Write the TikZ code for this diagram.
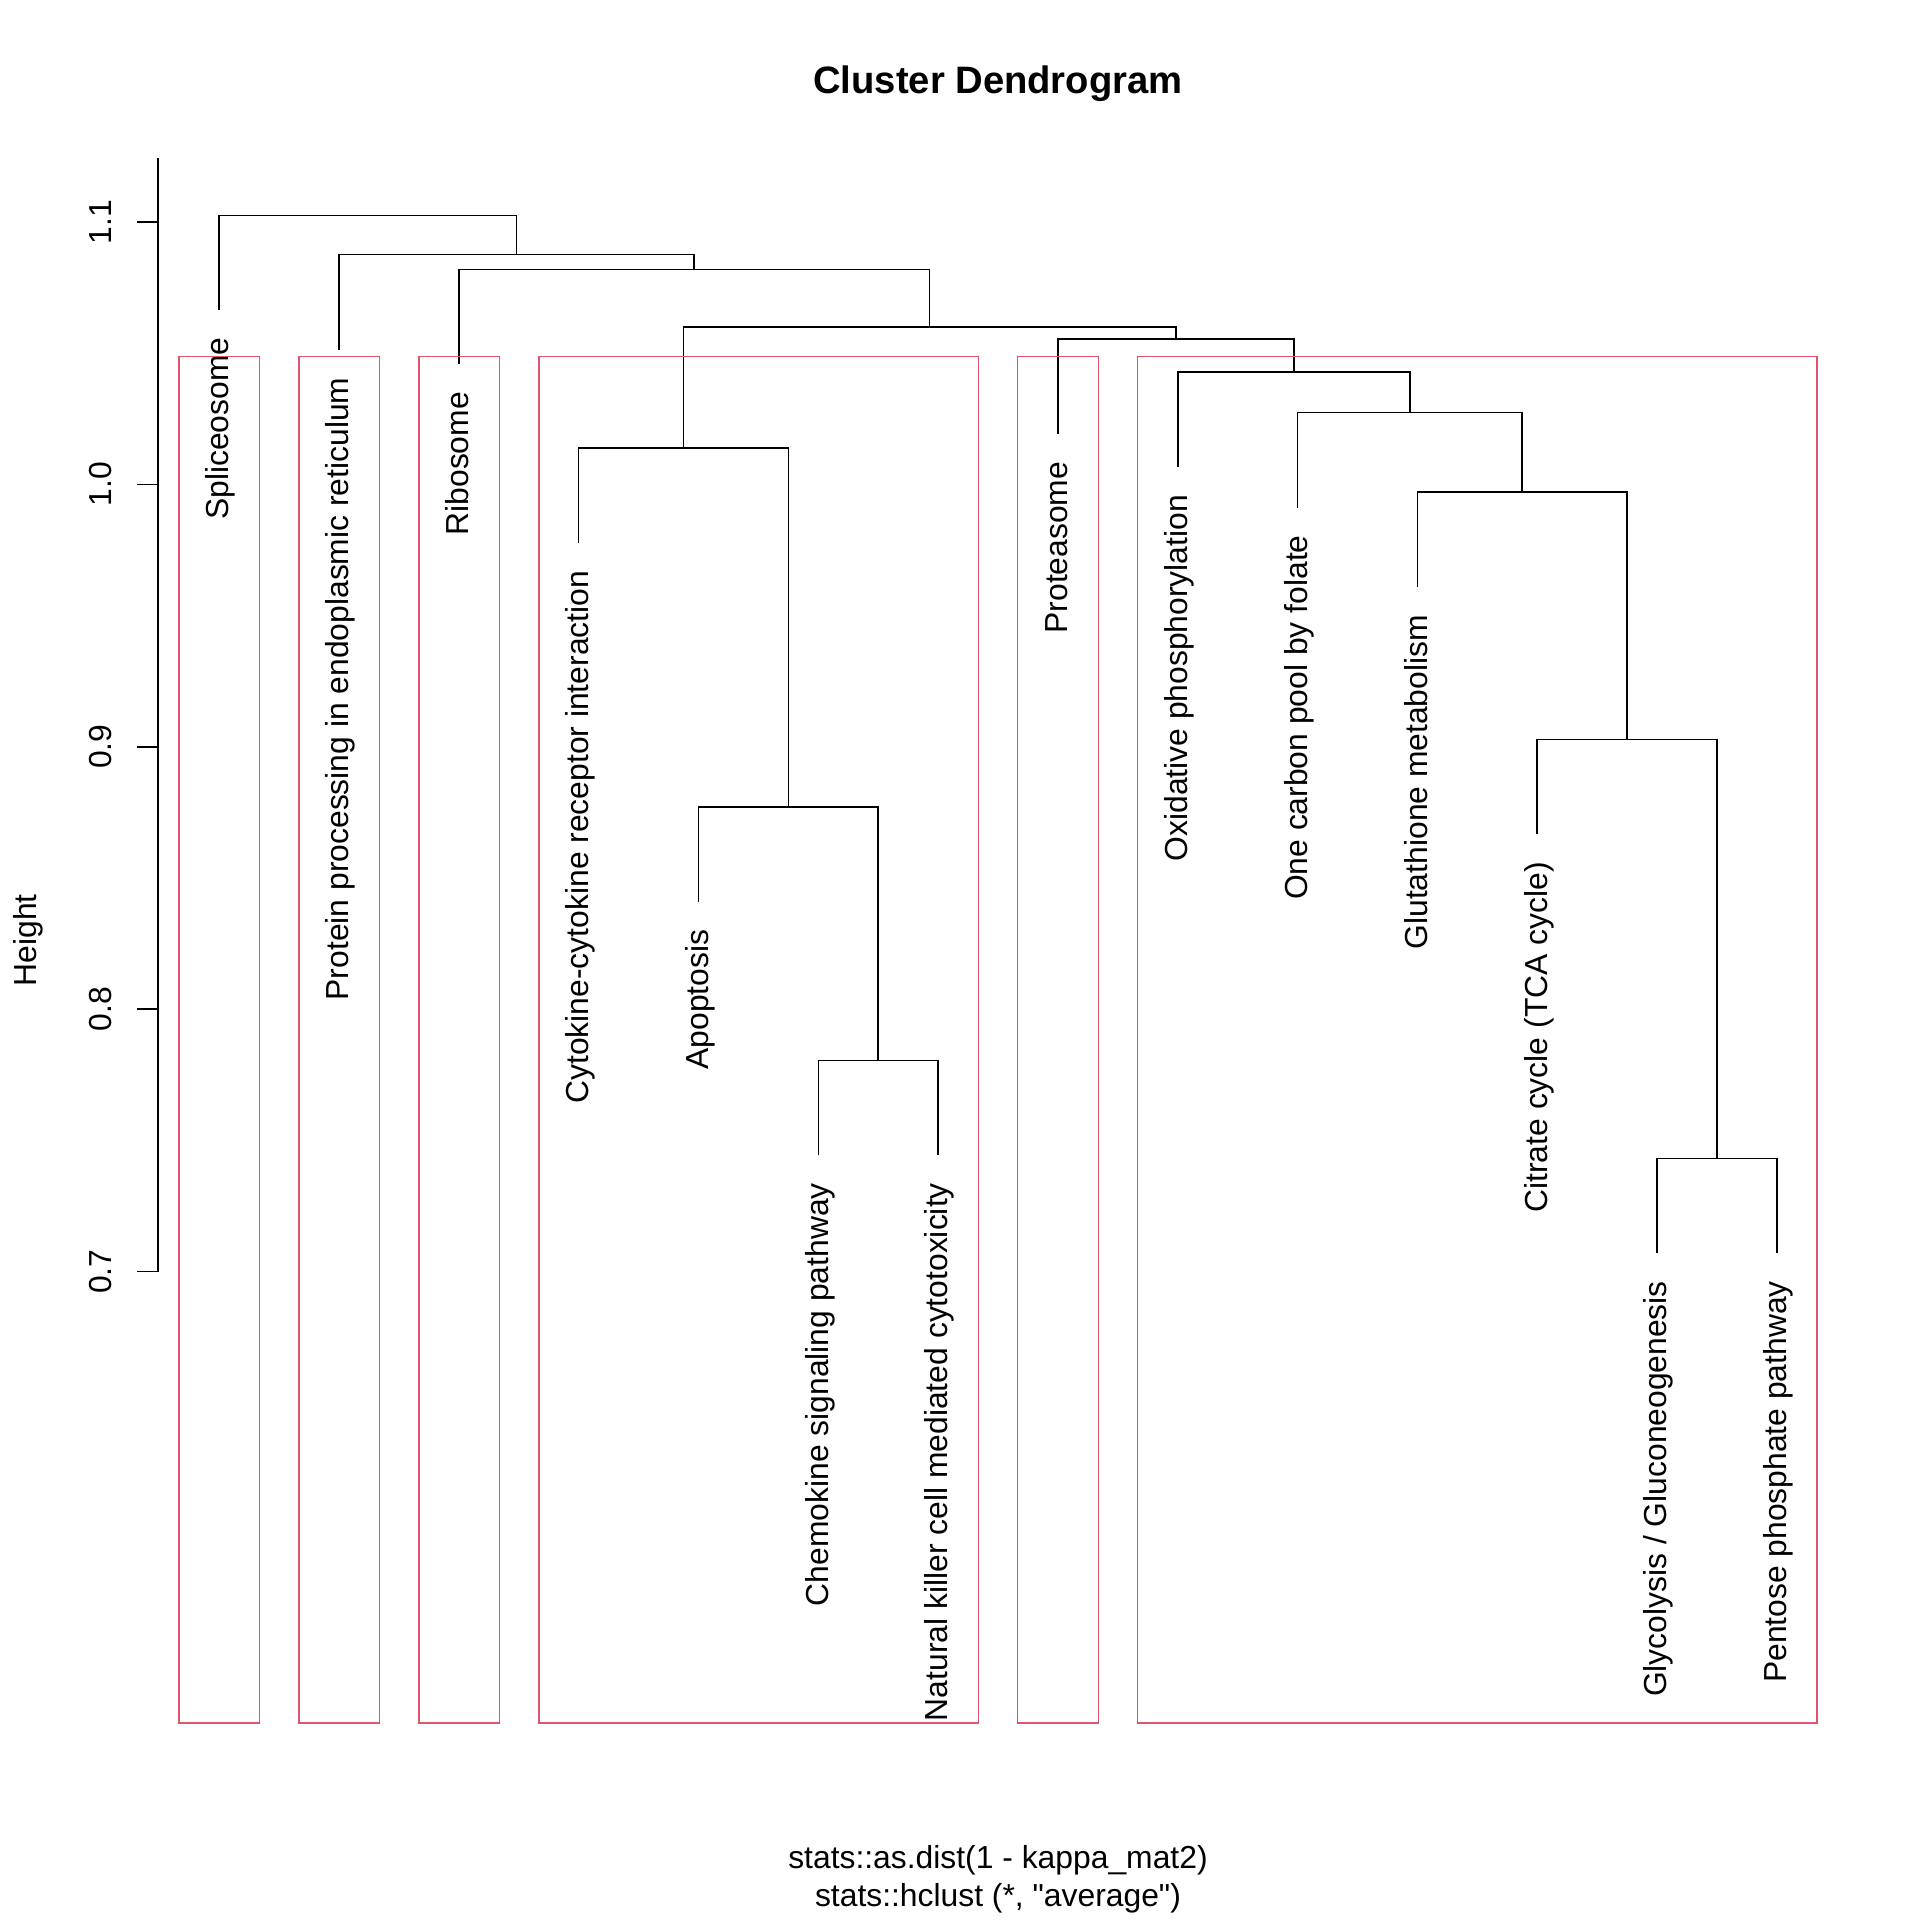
\documentclass[tikz,border=0pt]{standalone}
\usepackage{fontspec}
\setmainfont{Liberation Sans}
\newfontfamily\qfont{Liberation Sans}
\definecolor{rred}{HTML}{DF536B}
\begin{document}
\begin{tikzpicture}[x=1pt,y=-1pt,
  tree/.style={line width=1.3pt,black},
  box/.style={draw=rred,line width=1.3pt},
  leaflab/.style={rotate=90,anchor=base east,inner sep=0pt,font=\fontsize{26}{31}\selectfont},
  ticklab/.style={rotate=90,anchor=base,inner sep=0pt,font=\fontsize{26}{31}\selectfont},
  plain/.style={anchor=base,inner sep=0pt,font=\fontsize{26}{31}\selectfont}]
\useasboundingbox (0,0) rectangle (1568,1568);
% title and axis labels
\node[plain,font=\fontsize{31.2}{37}\selectfont\bfseries] (title) at (815,76) {Cluster Dendrogram};
\node[plain] (xlab) at (815,1526) {stats::as.dist(1 - kappa\_mat2)};
\node[plain] (sub) at (815,1557) {stats::hclust (*, {\qfont\char34}average{\qfont\char34})};
\node[ticklab] (ylab) at (30,768) {Height};
% y axis
\coordinate (atop) at (129,129);
\coordinate (abot) at (129,1039);
\draw[tree] (atop) -- (abot);
\foreach \v/\yy [count=\i] in {1.1/181.3,1.0/395.6,0.9/609.9,0.8/824.2,0.7/1038.5}{
  \coordinate (t\i) at (129,\yy);
  \coordinate (tt\i) at (112,\yy);
  \draw[tree] (t\i) -- (tt\i);
  \node[ticklab] (tl\i) at (91,\yy) {\v};
}
% leaves: ends of leaf lines
\coordinate (L1) at (179.0,253);
\coordinate (L2) at (276.9,285.5);
\coordinate (L3) at (374.7,297.5);
\coordinate (L4) at (472.6,443.5);
\coordinate (L5) at (570.4,736.5);
\coordinate (L6) at (668.3,943.5);
\coordinate (L7) at (766.1,943.5);
\coordinate (L8) at (864.0,354.5);
\coordinate (L9) at (961.8,381.5);
\coordinate (L10) at (1059.7,414.5);
\coordinate (L11) at (1157.5,479.5);
\coordinate (L12) at (1255.4,681.5);
\coordinate (L13) at (1353.2,1023.5);
\coordinate (L14) at (1451.1,1023.5);
% merges
\coordinate (M67) at (717.2,866);
\coordinate (M5) at (643.8,659);
\coordinate (M4) at (558.2,366);
\coordinate (M1314) at (1402.2,946);
\coordinate (M12) at (1328.8,604);
\coordinate (M11) at (1243.1,402);
\coordinate (M10) at (1151.4,337);
\coordinate (M9) at (1056.6,304);
\coordinate (M8) at (960.3,277);
\coordinate (MA) at (759.2,267);
\coordinate (M3) at (567.0,220);
\coordinate (M2) at (421.9,208);
\coordinate (M1) at (300,176);
\draw[tree] (L6) |- (M67) -| (L7);
\draw[tree] (L5) |- (M5) -| (M67);
\draw[tree] (L4) |- (M4) -| (M5);
\draw[tree] (L13) |- (M1314) -| (L14);
\draw[tree] (L12) |- (M12) -| (M1314);
\draw[tree] (L11) |- (M11) -| (M12);
\draw[tree] (L10) |- (M10) -| (M11);
\draw[tree] (L9) |- (M9) -| (M10);
\draw[tree] (L8) |- (M8) -| (M9);
\draw[tree] (M4) |- (MA) -| (M8);
\draw[tree] (L3) |- (M3) -| (MA);
\draw[tree] (L2) |- (M2) -| (M3);
\draw[tree] (L1) |- (M1) -| (M2);
% leaf labels
\foreach \n/\t in {1/{Spliceosome},2/{Protein processing in endoplasmic reticulum},3/{Ribosome},4/{Cytokine-cytokine receptor interaction},5/{Apoptosis},6/{Chemokine signaling pathway},7/{Natural killer cell mediated cytotoxicity},8/{Proteasome},9/{Oxidative phosphorylation},10/{One carbon pool by folate},11/{Glutathione metabolism},12/{Citrate cycle (TCA cycle)},13/{Glycolysis / Gluconeogenesis},14/{Pentose phosphate pathway}}{
  \node[leaflab] (lab\n) at ([shift={(8,22.5)}]L\n) {\t};
}
% cluster rectangles
\draw[box] (146,291) rectangle (212,1407);
\draw[box] (244,291) rectangle (310,1407);
\draw[box] (342,291) rectangle (408,1407);
\draw[box] (440,291) rectangle (799,1407);
\draw[box] (831,291) rectangle (897,1407);
\draw[box] (929,291) rectangle (1484,1407);
\end{tikzpicture}
\end{document}
